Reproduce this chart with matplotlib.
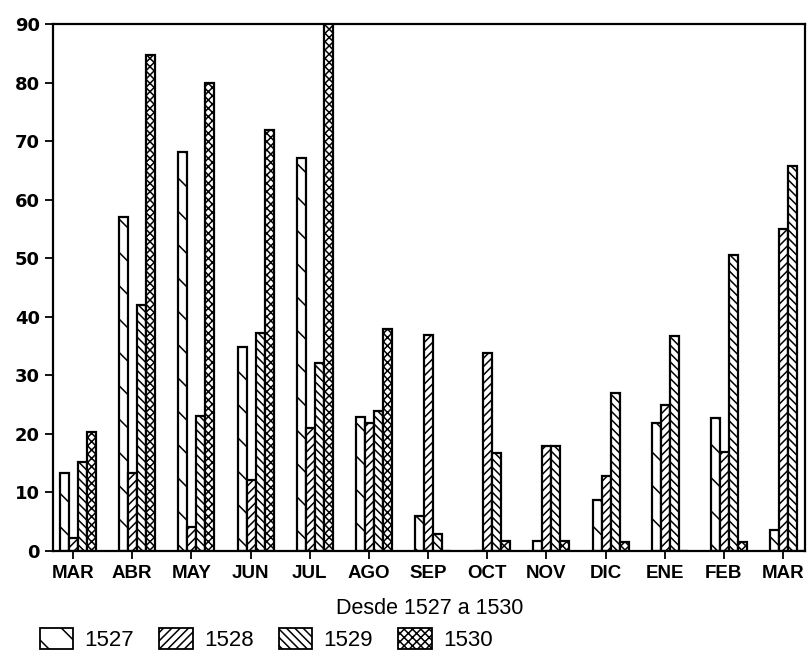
import matplotlib
matplotlib.use("Agg")
import matplotlib.pyplot as plt
import numpy as np
from matplotlib.patches import Patch

months = ['MAR', 'ABR', 'MAY', 'JUN', 'JUL', 'AGO', 'SEP', 'OCT', 'NOV', 'DIC', 'ENE', 'FEB', 'MAR']
years = ['1527', '1528', '1529', '1530']
v1527 = [13.3, 57.0, 68.1, 34.9, 67.1, 22.9, 6.0, 0, 1.7, 8.7, 21.9, 22.7, 3.6]
v1528 = [2.2, 13.3, 4.1, 12.1, 21.0, 21.9, 36.9, 33.8, 17.9, 12.8, 24.9, 16.9, 55.0]
v1529 = [15.2, 42.0, 23.0, 37.2, 32.1, 23.9, 2.9, 16.7, 17.9, 27.0, 36.7, 50.5, 65.7]
v1530 = [20.3, 84.7, 79.9, 71.9, 93.0, 37.9, 0, 1.7, 1.7, 1.6, 0, 1.6, 0]
series = [v1527, v1528, v1529, v1530]
hatches = ['\\', '////', '\\\\\\\\', 'xxxx']

plt.rcParams['font.family'] = ['Liberation Sans', 'DejaVu Sans']
plt.rcParams['hatch.linewidth'] = 1.1

fig = plt.figure(figsize=(8.1, 6.64), dpi=100)
ax = fig.add_axes([0.0654, 0.1702, 0.9284, 0.7937])

x = np.arange(len(months))
w = 0.152
offset = 0.085
for j, (vals, h) in enumerate(zip(series, hatches)):
    ax.bar(x + offset + (j - 1.5) * w, vals, width=w, facecolor='white',
           edgecolor='black', linewidth=1.6, hatch=h, label=years[j])

ax.set_xlim(-0.34, 12.37)
ax.set_ylim(0, 90)
ax.set_yticks(range(0, 91, 10))
ax.set_xticks(x)
ax.set_xticklabels(months, fontsize=13.5, fontweight='bold')
for lab in ax.get_yticklabels():
    lab.set_fontsize(13)
    lab.set_fontweight('bold')
    lab.set_family(['DejaVu Sans'])
for s in ax.spines.values():
    s.set_linewidth(1.6)
ax.tick_params(axis='both', direction='out', length=6, width=1.3, colors='black')
ax.tick_params(axis='x', pad=4)

fig.text(0.53, 0.083, 'Desde 1527 a 1530', ha='center', va='center', fontsize=15.5)

handles = [Patch(facecolor='white', edgecolor='black', hatch=h, linewidth=1.3) for h in hatches]
leg = fig.legend(handles, years, loc='center left', bbox_to_anchor=(0.049, 0.037), ncol=4,
                 frameon=False, fontsize=16, handlelength=1.5, handleheight=1.1,
                 columnspacing=1.15, handletextpad=0.5, borderaxespad=0, borderpad=0)

fig.savefig('out.png', dpi=100)
